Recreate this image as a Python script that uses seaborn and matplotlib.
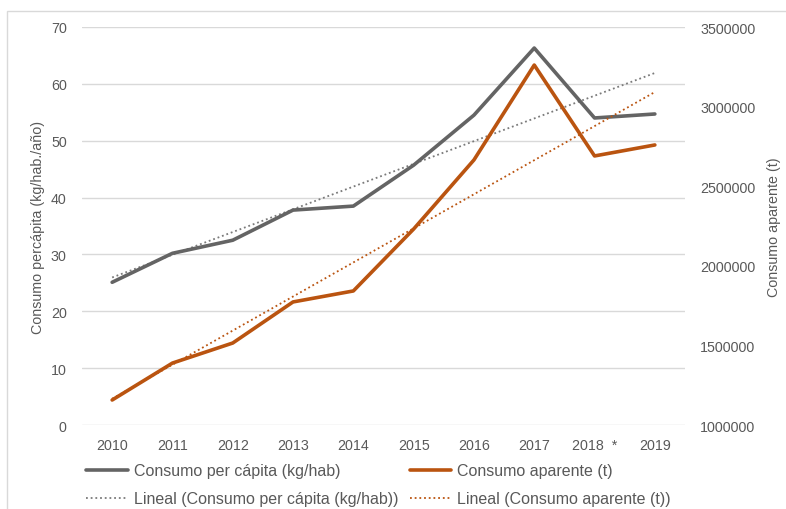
import numpy as np
import pandas as pd
import matplotlib
matplotlib.use("Agg")
import matplotlib.pyplot as plt
import seaborn as sns
from matplotlib.lines import Line2D
from matplotlib.patches import Rectangle

# Series
years = ["2010", "2011", "2012", "2013", "2014", "2015", "2016", "2017", "2018  *", "2019"]
per_capita = [25.1, 30.2, 32.5, 37.8, 38.5, 45.7, 54.5, 66.3, 54.0, 54.7]
aparente = [1157000, 1389000, 1515000, 1773000, 1842000, 2231000, 2665000, 3261000, 2690000, 2759000]

left_ticks = [0, 10, 20, 30, 40, 50, 60, 70]
right_ticks = [1000000, 1500000, 2000000, 2500000, 3000000, 3500000]

GRAY = "#646464"
ORANGE = "#BA5410"
TEXT = "#595959"
GRID = "#D9D9D9"
DOT = (0, (1, 1.6))

sns.set_theme(style="white")
plt.rcParams["font.family"] = ["Liberation Sans", "DejaVu Sans"]

df = pd.DataFrame({"pos": np.arange(len(years)), "year": years,
                   "per_capita": per_capita, "aparente": aparente})

W, H = 786, 510
fig = plt.figure(figsize=(W / 100, H / 100), dpi=100)
ax = fig.add_axes([82 / W, 1 - 426 / H, (685 - 82) / W, (426 - 28) / H])
ax2 = ax.twinx()

# chart-area border
fig.patches.append(Rectangle((7 / W, -0.1), 1.2, 1 - 12 / H + 0.1, transform=fig.transFigure,
                             fill=False, edgecolor=GRID, linewidth=1.0, zorder=0))

# main lines
sns.lineplot(data=df, x="pos", y="per_capita", ax=ax, color=GRAY, linewidth=2.6, zorder=4)
sns.lineplot(data=df, x="pos", y="aparente", ax=ax2, color=ORANGE, linewidth=2.6, zorder=4)

# linear trend lines
sns.regplot(data=df, x="pos", y="per_capita", ax=ax, scatter=False, ci=None, truncate=True,
            line_kws=dict(color="#7A7A7A", linewidth=1.3, linestyle=DOT, zorder=3))
sns.regplot(data=df, x="pos", y="aparente", ax=ax2, scatter=False, ci=None, truncate=True,
            line_kws=dict(color=ORANGE, linewidth=1.3, linestyle=DOT, zorder=3))

ax.set_xlim(-0.5, len(years) - 0.5)
ax.set_ylim(0, 70)
ax2.set_ylim(1000000, 3500000)
ax.set_yticks(left_ticks)
ax2.set_yticks(right_ticks)
ax2.set_yticklabels([str(v) for v in right_ticks])
ax.set_xticks(df["pos"])
ax.set_xticklabels(years)

ax.grid(axis="y", color=GRID, linewidth=1.0)
ax.set_axisbelow(True)
ax2.grid(False)
for a in (ax, ax2):
    for s in a.spines.values():
        s.set_visible(False)
    a.tick_params(length=0, labelsize=10.3, colors=TEXT)
ax.tick_params(axis="x", pad=9)
ax.tick_params(axis="y", pad=11)
ax2.tick_params(axis="y", pad=11)

ax.set_xlabel("")
ax.set_ylabel("Consumo percápita (kg/hab./año)", fontsize=10.3, color=TEXT, labelpad=4)
ax2.set_ylabel("Consumo aparente (t)", fontsize=10.3, color=TEXT, labelpad=8)

handles = [
    Line2D([], [], color=GRAY, linewidth=2.6),
    Line2D([], [], color="#7A7A7A", linewidth=1.3, linestyle=DOT),
    Line2D([], [], color=ORANGE, linewidth=2.6),
    Line2D([], [], color=ORANGE, linewidth=1.3, linestyle=DOT),
]
labels = ["Consumo per cápita (kg/hab)", "Lineal (Consumo per cápita (kg/hab))",
          "Consumo aparente (t)", "Lineal (Consumo aparente (t))"]
leg = fig.legend(handles, labels, ncol=2, loc="upper left",
                 bbox_to_anchor=(80 / W, 1 - 458 / H), frameon=False,
                 fontsize=11.5, handlelength=2.6, handletextpad=0.37,
                 columnspacing=0.7, labelspacing=0.8, borderaxespad=0)
for t in leg.get_texts():
    t.set_color(TEXT)

fig.savefig("out.png", dpi=100)
